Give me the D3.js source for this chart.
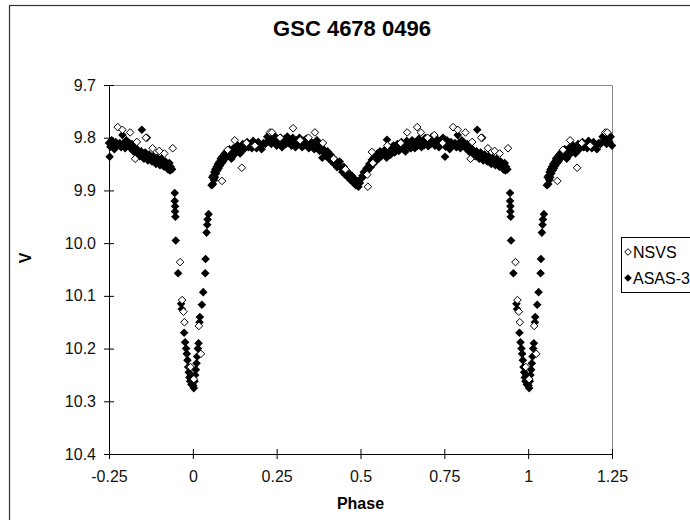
<!DOCTYPE html>
<html>
<head>
<meta charset="utf-8">
<script src="https://cdn.jsdelivr.net/npm/d3@7"></script>
<style>
  body { margin: 0; background: #fff; }
  text { font-family: Arial, "Liberation Sans", sans-serif; }
</style>
</head>
<body>
<div class="chart"></div>
<script>
// phase (0..1) and V magnitude
var nsvs = [
    [0.003, 10.258], [0.018, 10.157], [0.024, 10.21], [0.087, 9.882], [0.104, 9.823],
    [0.125, 9.805], [0.146, 9.857], [0.160, 9.81], [0.185, 9.815], [0.230, 9.79],
    [0.236, 9.79], [0.260, 9.80], [0.299, 9.782], [0.320, 9.805], [0.345, 9.80],
    [0.364, 9.79], [0.388, 9.81], [0.420, 9.84], [0.455, 9.86], [0.520, 9.87],
    [0.522, 9.893], [0.534, 9.827], [0.537, 9.848], [0.580, 9.815], [0.620, 9.81],
    [0.639, 9.79], [0.669, 9.78], [0.680, 9.79], [0.700, 9.80], [0.720, 9.795],
    [0.745, 9.81], [0.776, 9.78], [0.790, 9.785], [0.813, 9.79], [0.828, 9.84],
    [0.833, 9.808], [0.860, 9.80], [0.880, 9.82], [0.900, 9.825], [0.915, 9.83],
    [0.940, 9.82], [0.962, 10.036], [0.968, 10.108], [0.972, 10.13], [0.975, 10.15],
    [0.993, 10.235]
];

var asas = [
    // primary eclipse egress
    [0.001, 10.27], [0.003, 10.275], [0.005, 10.262], [0.007, 10.25], [0.009, 10.24],
    [0.011, 10.228], [0.013, 10.215], [0.015, 10.20], [0.017, 10.19], [0.020, 10.15],
    [0.021, 10.14], [0.027, 10.117], [0.031, 10.093], [0.037, 10.057], [0.038, 10.03],
    [0.041, 9.98], [0.043, 9.965], [0.044, 9.955], [0.047, 9.945], [0.056, 9.89],
    [0.058, 9.875],
    // rise to maximum
    [0.060, 9.888], [0.061, 9.872], [0.063, 9.88], [0.064, 9.865], [0.066, 9.875],
    [0.067, 9.86], [0.069, 9.868], [0.071, 9.855], [0.073, 9.862], [0.075, 9.85],
    [0.077, 9.858], [0.079, 9.846], [0.081, 9.853], [0.083, 9.84], [0.086, 9.848],
    [0.088, 9.836], [0.090, 9.845], [0.093, 9.832], [0.095, 9.84], [0.098, 9.828],
    [0.100, 9.837], [0.103, 9.826], [0.106, 9.834], [0.109, 9.822], [0.112, 9.83],
    [0.115, 9.84], [0.118, 9.826], [0.121, 9.82], [0.124, 9.832], [0.127, 9.818],
    [0.131, 9.826], [0.134, 9.815], [0.138, 9.824], [0.141, 9.83], [0.145, 9.818],
    [0.149, 9.812], [0.153, 9.822], [0.157, 9.815], [0.162, 9.808], [0.166, 9.818],
    [0.171, 9.812], [0.176, 9.82], [0.180, 9.806], [0.185, 9.814], [0.190, 9.82],
    [0.195, 9.808], [0.200, 9.815], [0.205, 9.822], [0.211, 9.81], [0.216, 9.812],
    // first maximum
    [0.222, 9.798], [0.226, 9.805], [0.230, 9.795], [0.234, 9.812], [0.238, 9.802],
    [0.242, 9.808], [0.246, 9.798], [0.250, 9.815], [0.254, 9.805], [0.258, 9.81],
    [0.262, 9.80], [0.266, 9.818], [0.270, 9.808], [0.274, 9.802], [0.278, 9.812],
    [0.282, 9.798], [0.286, 9.81], [0.290, 9.804], [0.294, 9.815], [0.298, 9.80],
    [0.302, 9.808], [0.306, 9.818], [0.310, 9.805], [0.314, 9.812], [0.318, 9.80],
    [0.322, 9.81], [0.326, 9.818], [0.330, 9.806], [0.334, 9.814], [0.338, 9.802],
    [0.342, 9.812], [0.346, 9.82], [0.350, 9.808], [0.354, 9.815], [0.358, 9.81],
    [0.362, 9.822], [0.366, 9.812], [0.370, 9.805], [0.374, 9.818], [0.378, 9.825],
    [0.382, 9.814], [0.386, 9.838],
    // secondary eclipse
    [0.390, 9.822], [0.394, 9.83], [0.398, 9.835], [0.402, 9.826], [0.406, 9.84],
    [0.410, 9.832], [0.414, 9.845], [0.418, 9.838], [0.422, 9.85], [0.426, 9.843],
    [0.430, 9.856], [0.434, 9.848], [0.438, 9.845], [0.442, 9.858], [0.446, 9.865],
    [0.450, 9.855], [0.454, 9.87], [0.458, 9.862], [0.462, 9.875], [0.466, 9.868],
    [0.470, 9.88], [0.474, 9.872], [0.478, 9.885], [0.482, 9.878], [0.486, 9.89],
    [0.490, 9.882], [0.494, 9.893], [0.498, 9.886], [0.502, 9.878], [0.506, 9.872],
    [0.510, 9.865], [0.514, 9.87], [0.518, 9.858], [0.522, 9.862], [0.526, 9.85],
    [0.530, 9.856], [0.534, 9.842], [0.538, 9.85], [0.542, 9.836], [0.546, 9.844],
    [0.550, 9.83], [0.554, 9.84], [0.558, 9.826], [0.562, 9.835], [0.570, 9.83],
    [0.574, 9.822], [0.578, 9.838], [0.579, 9.804], [0.582, 9.826], [0.586, 9.818],
    [0.590, 9.832], [0.594, 9.822], [0.598, 9.815], [0.602, 9.828], [0.606, 9.818],
    [0.610, 9.812], [0.614, 9.825], [0.618, 9.815], [0.622, 9.808], [0.626, 9.82],
    [0.630, 9.812], [0.634, 9.826], [0.638, 9.806], [0.642, 9.815], [0.646, 9.81],
    [0.650, 9.82], [0.654, 9.805], [0.658, 9.814],
    // second maximum
    [0.662, 9.82], [0.666, 9.808], [0.670, 9.815], [0.674, 9.802], [0.678, 9.812],
    [0.682, 9.818], [0.686, 9.806], [0.690, 9.814], [0.694, 9.80], [0.698, 9.81],
    [0.702, 9.816], [0.706, 9.805], [0.710, 9.812], [0.714, 9.798], [0.718, 9.808],
    [0.722, 9.815], [0.726, 9.802], [0.730, 9.81], [0.734, 9.818], [0.738, 9.806],
    [0.742, 9.812], [0.746, 9.80], [0.750, 9.81], [0.752, 9.836], [0.754, 9.817],
    [0.758, 9.805], [0.762, 9.812], [0.766, 9.822], [0.770, 9.808], [0.774, 9.815],
    [0.782, 9.81], [0.786, 9.818], [0.790, 9.795], [0.794, 9.81], [0.798, 9.82],
    [0.802, 9.805], [0.806, 9.815],
    // decline toward primary eclipse
    [0.810, 9.81], [0.814, 9.82], [0.818, 9.812], [0.822, 9.825], [0.826, 9.818],
    [0.830, 9.83], [0.834, 9.822], [0.838, 9.828], [0.842, 9.835], [0.846, 9.826],
    [0.848, 9.785], [0.850, 9.832], [0.854, 9.84], [0.858, 9.828], [0.862, 9.836],
    [0.863, 9.80], [0.866, 9.843], [0.870, 9.832], [0.874, 9.838], [0.878, 9.845],
    [0.882, 9.835], [0.886, 9.842], [0.890, 9.85], [0.894, 9.838], [0.898, 9.845],
    [0.902, 9.852], [0.906, 9.84], [0.910, 9.848], [0.914, 9.855], [0.918, 9.845],
    [0.922, 9.852], [0.926, 9.86], [0.930, 9.848], [0.932, 9.862], [0.934, 9.855],
    [0.938, 9.86],
    // primary eclipse ingress
    [0.946, 9.905], [0.946, 9.92], [0.947, 9.93], [0.947, 9.94], [0.948, 9.95],
    [0.949, 9.995], [0.956, 10.057], [0.965, 10.115], [0.967, 10.125], [0.974, 10.17],
    [0.977, 10.188], [0.980, 10.20], [0.982, 10.21], [0.984, 10.222], [0.986, 10.235],
    [0.988, 10.245], [0.990, 10.255], [0.992, 10.262], [0.994, 10.25], [0.996, 10.268],
    [0.998, 10.258]
];

var xTicks = [-0.25, 0, 0.25, 0.5, 0.75, 1, 1.25];
var xTickLabels = ["-0.25", "0", "0.25", "0.5", "0.75", "1", "1.25"];
var yTicks = [9.7, 9.8, 9.9, 10.0, 10.1, 10.2, 10.3, 10.4];
var seriesNames = ["NSVS", "ASAS-3"];

var svgWidth = 690;
var svgHeight = 520;

var margin = { top: 85, right: 78, bottom: 66, left: 109 };
var width = svgWidth - margin.left - margin.right;
var height = svgHeight - margin.top - margin.bottom;

// the plotted phase range shows one extra quarter cycle on each side
function wrapPhase(data) {
    var out = [];
    data.forEach(function(d) {
        out.push(d);
        if (d[0] >= 0.75) out.push([d[0] - 1, d[1]]);
        if (d[0] <= 0.25) out.push([d[0] + 1, d[1]]);
    });
    return out;
}

var svg = d3.select(".chart")
    .append("svg")
    .attr("width", svgWidth)
    .attr("height", svgHeight);

// outer chart frame (runs off the right and bottom edge)
svg.append("rect")
    .attr("x", 9.5)
    .attr("y", 5.5)
    .attr("width", 720)
    .attr("height", 540)
    .attr("fill", "#fff")
    .attr("stroke", "#333")
    .attr("stroke-width", 1.2);

svg.append("text")
    .attr("x", 352)
    .attr("y", 36)
    .attr("text-anchor", "middle")
    .style("font-size", "22px")
    .style("font-weight", "bold")
    .text("GSC 4678 0496");

var chartGroup = svg.append("g")
    .attr("transform", `translate(${margin.left}, ${margin.top})`);

var xScale = d3.scaleLinear().domain([-0.25, 1.25]).range([0, width]);
var yScale = d3.scaleLinear().domain([9.7, 10.4]).range([0, height]);

// grey top and right edges of plot area
chartGroup.append("path")
    .attr("d", `M0,0.5H${width + 0.5}V${height}`)
    .attr("fill", "none")
    .attr("stroke", "#888")
    .attr("stroke-width", 1);

var bottomAxis = d3.axisBottom(xScale)
    .tickValues(xTicks)
    .tickFormat((d, i) => xTickLabels[i])
    .tickSizeInner(5)
    .tickSizeOuter(0)
    .tickPadding(12);

var leftAxis = d3.axisLeft(yScale)
    .tickValues(yTicks)
    .tickFormat(d3.format(".1f"))
    .tickSizeInner(5)
    .tickSizeOuter(0)
    .tickPadding(8);

var xAxis = chartGroup.append("g")
    .attr("transform", `translate(0, ${height})`)
    .call(bottomAxis);
xAxis.selectAll(".tick line").attr("y1", -5);

var yAxis = chartGroup.append("g")
    .call(leftAxis);
yAxis.selectAll(".tick line").attr("x1", 5);

chartGroup.selectAll(".domain").attr("stroke", "#000");
chartGroup.selectAll(".tick line").attr("stroke", "#000");
chartGroup.selectAll(".tick text")
    .attr("fill", "#111")
    .style("font-size", "16px")
    .style("font-family", "Arial, 'Liberation Sans', sans-serif");

function diamond(r) {
    return `M0,${-r}L${r},0L0,${r}L${-r},0Z`;
}

chartGroup.append("g")
    .selectAll("path")
    .data(wrapPhase(asas))
    .enter()
    .append("path")
    .attr("transform", d => `translate(${xScale(d[0])}, ${yScale(d[1])})`)
    .attr("d", diamond(4.3))
    .attr("fill", "#000");

chartGroup.append("g")
    .selectAll("path")
    .data(wrapPhase(nsvs))
    .enter()
    .append("path")
    .attr("transform", d => `translate(${xScale(d[0])}, ${yScale(d[1])})`)
    .attr("d", diamond(3.8))
    .attr("fill", "#fff")
    .attr("stroke", "#000")
    .attr("stroke-width", 1);

// axis titles
svg.append("text")
    .attr("transform", "translate(31, 258) rotate(-90)")
    .attr("text-anchor", "middle")
    .style("font-size", "16px")
    .style("font-weight", "bold")
    .text("V");

svg.append("text")
    .attr("x", margin.left + width / 2)
    .attr("y", 509)
    .attr("text-anchor", "middle")
    .style("font-size", "16px")
    .style("font-weight", "bold")
    .text("Phase");

// legend (cut off by the right edge, like the original)
var legend = svg.append("g").attr("transform", "translate(621, 237)");
legend.append("rect")
    .attr("x", 0.5)
    .attr("y", 0.5)
    .attr("width", 100)
    .attr("height", 55)
    .attr("fill", "#fff")
    .attr("stroke", "#000");

seriesNames.forEach(function(name, i) {
    var row = legend.append("g").attr("transform", `translate(0, ${15 + i * 26})`);
    row.append("path")
        .attr("transform", "translate(7, 0)")
        .attr("d", diamond(3.3))
        .attr("fill", i === 0 ? "#fff" : "#000")
        .attr("stroke", "#000")
        .attr("stroke-width", 1);
    row.append("text")
        .attr("x", 12)
        .attr("y", 6)
        .style("font-size", "16px")
        .text(name);
});
</script>
</body>
</html>
